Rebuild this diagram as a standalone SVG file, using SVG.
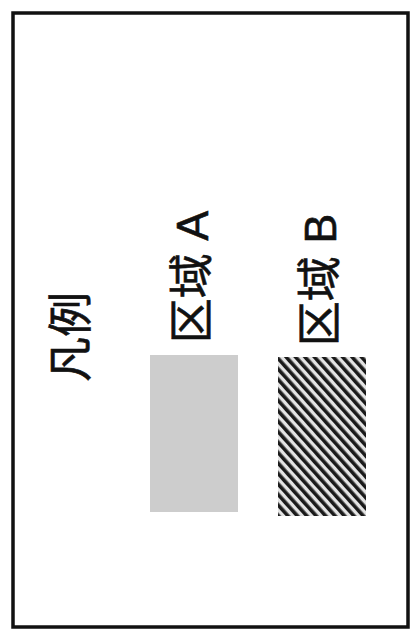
<svg xmlns="http://www.w3.org/2000/svg" width="414" height="630" viewBox="0 0 414 630">
<style>
.lbl{font-family:"Liberation Sans","Noto Sans CJK SC",sans-serif;font-size:45px;fill:#111;text-anchor:middle;dominant-baseline:central;stroke:#111;stroke-width:0.6}
</style>
<defs>
<pattern id="hatch" patternUnits="userSpaceOnUse" width="7" height="7" patternTransform="rotate(-42)">
<rect width="7" height="7" fill="#e4e4e4"/>
<rect width="3.6" height="7" fill="#1a1a1a"/>
</pattern>
</defs>
<rect width="414" height="630" fill="#ffffff"/>
<rect id="frame" x="13" y="13" width="395" height="614" fill="none" stroke="#111" stroke-width="3.5"/>
<g id="title"><text class="lbl" transform="translate(71,337) rotate(-90)">凡例</text></g>
<g id="legendA">
<rect x="150" y="355" width="88" height="157" fill="#cdcdcd"/>
<text class="lbl" transform="translate(192,277) rotate(-90)">区域 A</text>
</g>
<g id="legendB">
<rect x="278" y="357" width="88" height="159" fill="url(#hatch)"/>
<text class="lbl" transform="translate(320,280) rotate(-90)">区域 B</text>
</g>
<g id="connectors"/>
</svg>
